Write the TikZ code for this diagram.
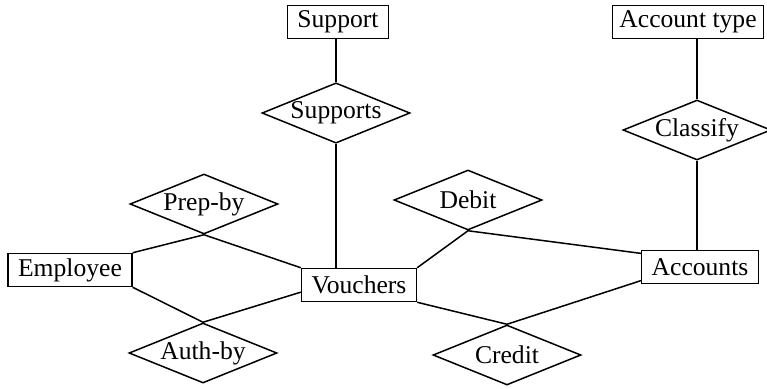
\documentclass[tikz,border=0pt]{standalone}
\usepackage{fontspec}
\setmainfont{Liberation Serif}
\usepackage{tikz}
\usetikzlibrary{shapes.geometric,calc}
\definecolor{InkBlack}{HTML}{000000}
\tikzset{
  entity/.style={draw=InkBlack,line width=0.75pt,rectangle,inner xsep=5pt,inner ysep=0pt,
    minimum height=16.5pt,font=\fontsize{12.8}{14}\selectfont},
  relation/.style={draw=InkBlack,line width=0.75pt,diamond,aspect=2.4,inner sep=0pt,
    minimum width=74pt,minimum height=30pt,font=\fontsize{12.8}{14}\selectfont},
  link/.style={draw=InkBlack,line width=0.75pt}
}
\begin{document}
\begin{tikzpicture}[x=0.5pt,y=-0.5pt]
  \useasboundingbox (0,0) rectangle (767,388);
  % entities
  \node[entity] (support) at (338,22) {Support};
  \node[entity,inner xsep=3.5pt] (acctype) at (688,22) {Account type};
  \node[entity] (employee) at (70,270) {Employee};
  \node[entity] (vouchers) at (359,285) {Vouchers};
  \node[entity] (accounts) at (700,267) {Accounts};
  % relationships
  \node[relation] (supports) at (336,113) {Supports};
  \node[relation] (classify) at (697,130) {Classify};
  \node[relation] (prepby) at (204,204) {Prep-by};
  \node[relation] (debit) at (468,200) {Debit};
  \node[relation] (authby) at (203,353) {Auth-by};
  \node[relation] (credit) at (507,355) {Credit};
  % links
  \draw[link] (supports.north) -- (supports |- support.south);
  \draw[link] (supports.south) -- (supports |- vouchers.north);
  \draw[link] (classify.north) -- (classify |- acctype.south);
  \draw[link] (classify.south) -- (classify |- accounts.north);
  \draw[link] (employee.north east) -- (prepby.south) -- (vouchers.north west);
  \draw[link] (employee.south east) -- (authby.north) -- (vouchers.187);
  \draw[link] (vouchers.north east) -- (debit.south) -- (accounts.167);
  \draw[link] (vouchers.south east) -- (credit.north) -- (accounts.193);
\end{tikzpicture}
\end{document}
